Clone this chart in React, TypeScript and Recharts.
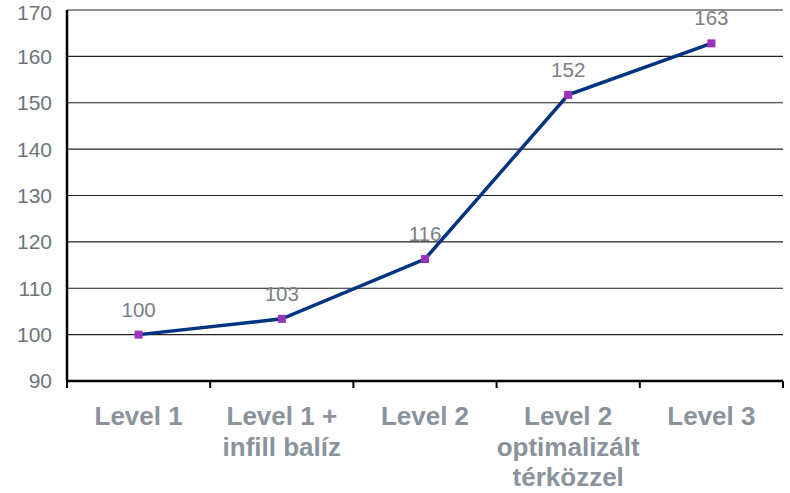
import React from 'react';
import { LineChart, Line, XAxis, YAxis, CartesianGrid, LabelList } from 'recharts';

const categories = ['Level 1', 'Level 1 +\ninfill balíz', 'Level 2', 'Level 2\noptimalizált\ntérközzel', 'Level 3'];
const values = [100, 103.4, 116.3, 151.7, 162.8];
const yTicks = [90, 100, 110, 120, 130, 140, 150, 160, 170];

const data = categories.map((name, i) => ({ name, value: values[i] }));

const FONT = '"Liberation Sans", Arial, sans-serif';
const PLOT_WIDTH = 716;
const BAND = PLOT_WIDTH / categories.length;

// category label plus the boundary tick marks under the axis
const XTick = (props: any) => {
  const { x, y, payload, index } = props;
  const lines = String(payload.value).split('\n');
  return (
    <g>
      {index === 0 && (
        <line x1={x - BAND / 2} x2={x - BAND / 2} y1={y} y2={y + 7} stroke="#000" strokeWidth={2} />
      )}
      <line x1={x + BAND / 2} x2={x + BAND / 2} y1={y} y2={y + 7} stroke="#000" strokeWidth={2} />
      <text x={x} y={y + 44} textAnchor="middle" fill="#8a939b" fontSize={26} fontWeight="bold" fontFamily={FONT}>
        {lines.map((l, i) => (
          <tspan key={i} x={x} dy={i === 0 ? 0 : 30.5}>{l}</tspan>
        ))}
      </text>
    </g>
  );
};

const Marker = (props: any) => {
  const { cx, cy } = props;
  if (cx == null || cy == null) return null;
  return <rect x={cx - 4} y={cy - 4} width={8} height={8} fill="#9933bb" />;
};

export default function App() {
  return (
    <div style={{ position: 'absolute', left: 0, top: 0, width: 790, height: 493, background: '#fff' }}>
      <LineChart width={790} height={493} data={data} margin={{ top: 10, right: 7, left: 0, bottom: 0 }}>
        <CartesianGrid vertical={false} stroke="#222" strokeWidth={1.2} />
        <XAxis
          dataKey="name"
          scale="band"
          interval={0}
          height={112}
          axisLine={{ stroke: '#000', strokeWidth: 2.5 }}
          tickLine={false}
          tickSize={0}
          tickMargin={0}
          tick={<XTick />}
        />
        <YAxis
          domain={[90, 170]}
          ticks={yTicks}
          width={67}
          axisLine={{ stroke: '#000', strokeWidth: 2.5 }}
          tickLine={false}
          tickSize={0}
          tickMargin={15}
          tick={{ fill: '#6e747b', fontSize: 21, fontFamily: FONT }}
        />
        <Line
          dataKey="value"
          stroke="#003380"
          strokeWidth={3.5}
          dot={<Marker />}
          activeDot={false}
          isAnimationActive={false}
        >
          <LabelList
            dataKey="value"
            position="top"
            offset={18}
            formatter={(v: any) => Math.round(Number(v))}
            style={{ fill: '#7a7f85', fontSize: 20.5, fontFamily: FONT }}
          />
        </Line>
      </LineChart>
    </div>
  );
}
